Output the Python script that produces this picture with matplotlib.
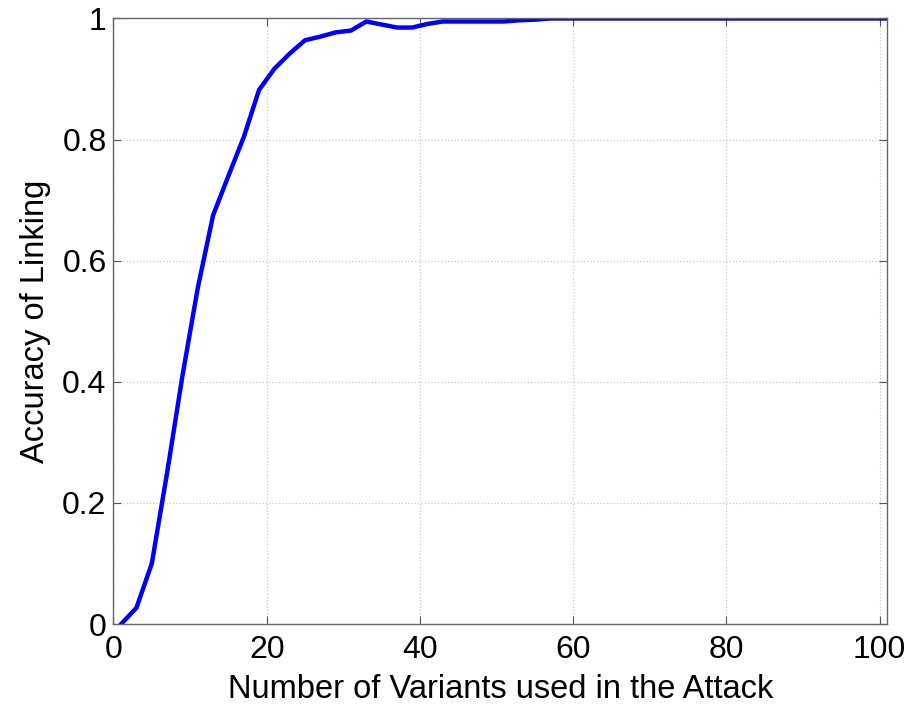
import matplotlib
matplotlib.use("Agg")
import matplotlib.pyplot as plt
import numpy as np

variants = [1, 3, 5, 7, 9, 11, 13, 15, 17, 19, 21, 23, 25, 27, 29, 31, 33, 35, 37, 39,
            41, 43, 45, 47, 49, 51, 53, 55, 57, 59, 61, 63, 65, 67, 69, 71, 73, 75, 77,
            79, 81, 83, 85, 87, 89, 91, 93, 95, 97, 99, 101]
accuracy = [0.0, 0.027, 0.10, 0.25, 0.41, 0.555, 0.675, 0.74, 0.804, 0.882, 0.917,
            0.942, 0.964, 0.970, 0.977, 0.980, 0.995, 0.990, 0.985, 0.985, 0.991,
            0.995, 0.995, 0.995, 0.995, 0.995, 0.997, 0.998, 1.0, 1.0, 1.0, 1.0, 1.0,
            1.0, 1.0, 1.0, 1.0, 1.0, 1.0, 1.0, 1.0, 1.0, 1.0, 1.0, 1.0, 1.0, 1.0,
            1.0, 1.0, 1.0, 1.0]
xticks = [0, 20, 40, 60, 80, 100]
yticks = [0, 0.2, 0.4, 0.6, 0.8, 1.0]
ytick_labels = ["0", "0.2", "0.4", "0.6", "0.8", "1"]

plt.rcParams['font.family'] = ['Liberation Sans', 'DejaVu Sans']

fig = plt.figure(figsize=(9.19, 7.10), dpi=100)
ax = fig.add_axes([0.1235, 0.121, 0.842, 0.853])
ax.plot(variants, accuracy, color='#0000ff', linewidth=3.2, solid_joinstyle='round')
ax.set_xlim(0, 101)
ax.set_ylim(0, 1)
ax.set_xticks(xticks)
ax.set_yticks(yticks)
ax.set_yticklabels(ytick_labels)
ax.grid(True, color='#c8c8c8', linestyle=':', linewidth=0.9)
ax.tick_params(direction='in', top=True, right=True, labelsize=23, length=6,
               color='#555555')
ax.tick_params(axis='x', pad=8)
ax.tick_params(axis='y', pad=5)
for s in ax.spines.values():
    s.set_color('#666666')
    s.set_linewidth(1.0)
ax.set_xlabel('Number of Variants used in the Attack', fontsize=23.5, labelpad=6)
ax.set_ylabel('Accuracy of Linking', fontsize=23.5, labelpad=8)
fig.savefig('out.png', dpi=100)
